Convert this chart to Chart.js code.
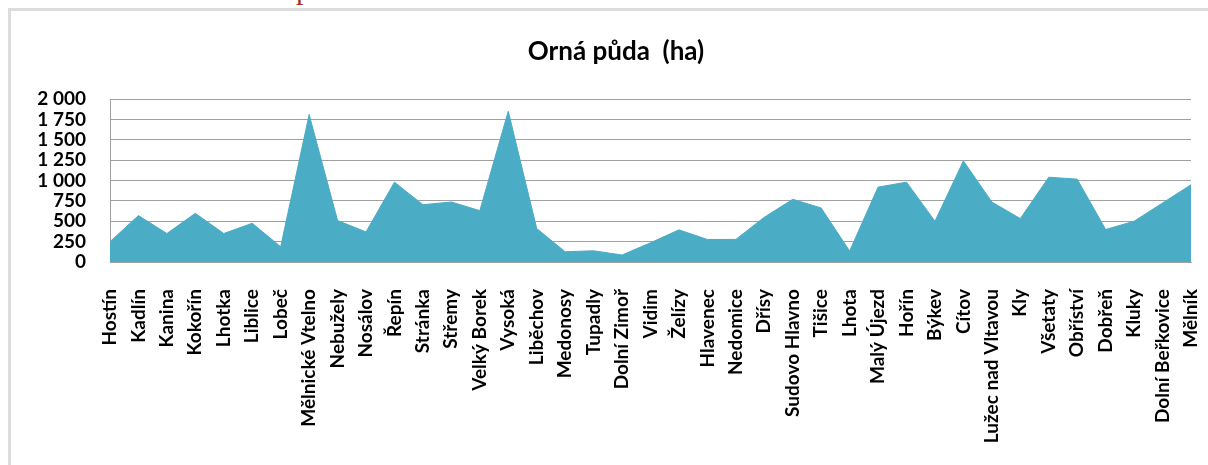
<!DOCTYPE html>
<html>
<head>
<meta charset="utf-8">
<script src="https://cdn.jsdelivr.net/npm/chart.js@4/dist/chart.umd.min.js"></script>
<style>
  html, body { margin: 0; padding: 0; background: #fff; }
  #wrap { position: relative; width: 1208px; height: 465px; overflow: hidden; }
  #frame { position: absolute; left: 8px; top: 8px; width: 1300px; height: 600px;
           border-left: 3px solid #dcdcdc; border-top: 3px solid #dcdcdc; }
  #cut { position: absolute; left: 296px; top: -26px; font: 30px "Liberation Serif", serif;
         color: #9e2f2b; line-height: 1; }
  canvas { position: absolute; left: 0; top: 0; }
</style>
</head>
<body>
<div id="wrap">
  <div id="frame"></div>
  <div id="cut">p</div>
  <canvas id="areaChart" width="1208" height="465"></canvas>
</div>
<script>
// obce a výměra orné půdy (ha)
var obce = ["Hostín", "Kadlín", "Kanina", "Kokořín", "Lhotka", "Liblice", "Lobeč",
    "Mělnické Vtelno", "Nebužely", "Nosálov", "Řepín", "Stránka", "Střemy", "Velký Borek",
    "Vysoká", "Liběchov", "Medonosy", "Tupadly", "Dolní Zimoř", "Vidim", "Želízy",
    "Hlavenec", "Nedomice", "Dřísy", "Sudovo Hlavno", "Tišice", "Lhota", "Malý Újezd",
    "Hořín", "Býkev", "Cítov", "Lužec nad Vltavou", "Kly", "Všetaty", "Obříství",
    "Dobřeň", "Kluky", "Dolní Beřkovice", "Mělník"];
var ornaPuda = [250, 570, 350, 598, 350, 476, 187,
    1812, 509, 370, 981, 704, 737, 631,
    1853, 411, 126, 138, 86, 236, 395,
    277, 277, 550, 770, 664, 134, 920,
    981, 501, 1242, 737, 533, 1042, 1018,
    399, 501, 725, 949];
var osaY = [0, 250, 500, 750, 1000, 1250, 1500, 1750, 2000];

var pismo = "Lato, 'Open Sans', sans-serif";

function tisice(v) {
    return String(v).replace(/\B(?=(\d{3})+(?!\d))/g, " ");
}

var chartdata = {
    labels: obce,
    datasets: [
        {
            label: "Orná půda (ha)",
            data: ornaPuda,
            backgroundColor: "#4bacc6",
            borderColor: "#4bacc6",
            borderWidth: 1,
            pointRadius: 0,
            tension: 0,
            fill: "origin"
        }
    ]
};

// titulek je v originale trochu vpravo od stredu platna
var posunTitulku = {
    id: "posunTitulku",
    afterLayout: function (chart) {
        if (chart.titleBlock) chart.titleBlock.left = 41;
    }
};

var graf = new Chart(document.getElementById("areaChart"), {
    type: "line",
    data: chartdata,
    plugins: [posunTitulku],
    options: {
        responsive: false,
        animation: false,
        layout: { padding: { left: 0, right: 17, top: 0, bottom: 0 } },
        plugins: {
            legend: { display: false },
            tooltip: { enabled: false },
            title: {
                display: true,
                text: "Orná půda  (ha)",
                color: "#000",
                font: { family: pismo, size: 26, weight: "bold" },
                padding: { top: 36, bottom: 32 }
            }
        },
        scales: {
            x: {
                offset: false,
                grid: { display: false },
                border: { display: true, color: "#a0a0a0", width: 1 },
                ticks: {
                    autoSkip: false,
                    minRotation: 90,
                    maxRotation: 90,
                    padding: 19,
                    color: "#000",
                    font: { family: pismo, size: 19, weight: "bold" }
                },
                afterFit: function (scale) {
                    scale.height = 203;
                    scale.paddingLeft = 0;
                    scale.paddingRight = 0;
                }
            },
            y: {
                min: 0,
                max: 2000,
                afterBuildTicks: function (scale) {
                    scale.ticks = osaY.map(function (v) { return { value: v }; });
                },
                grid: { color: "#a0a0a0", lineWidth: 1, drawTicks: false },
                border: { display: true, color: "#a0a0a0", width: 1 },
                ticks: {
                    autoSkip: false,
                    padding: 24,
                    color: "#000",
                    font: { family: pismo, size: 19, weight: "bold" },
                    callback: function (v) { return tisice(v); }
                },
                afterFit: function (scale) { scale.width = 110; }
            }
        }
    }
});
</script>
</body>
</html>
